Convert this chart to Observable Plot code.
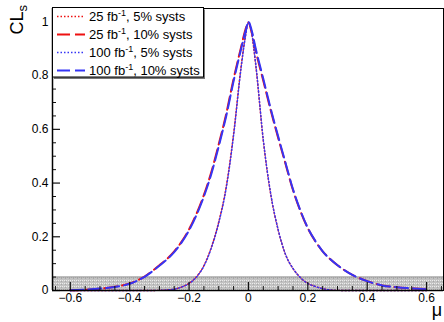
<!DOCTYPE html>
<html><head><meta charset="utf-8">
<script src="https://cdn.jsdelivr.net/npm/d3@7"></script>
<script src="https://cdn.jsdelivr.net/npm/@observablehq/plot@0.6"></script>
<style>
html,body{margin:0;padding:0;background:#fff;}
#chart{width:444px;height:322px;}
</style></head><body><div id="chart"></div>
<script>
// ---- data ----
const mu = [-0.6,-0.55,-0.5,-0.45,-0.4,-0.35,-0.3,-0.275,-0.25,-0.225,-0.2,-0.175,-0.15,-0.125,-0.1,-0.075,-0.05,-0.025,-0.01,0,0.01,0.025,0.05,0.075,0.1,0.125,0.15,0.175,0.2,0.225,0.25,0.275,0.3,0.35,0.4,0.45,0.5,0.55,0.6];
const cls100_10 = [0.001,0.003,0.007,0.013,0.025,0.051,0.092,0.115,0.143,0.179,0.224,0.281,0.350,0.434,0.537,0.649,0.780,0.898,0.965,1.0,0.972,0.898,0.788,0.677,0.574,0.475,0.377,0.298,0.233,0.185,0.146,0.117,0.094,0.058,0.035,0.019,0.012,0.008,0.005];
const cls25_10  = [0.001,0.003,0.007,0.014,0.026,0.052,0.094,0.117,0.146,0.182,0.228,0.286,0.356,0.441,0.545,0.657,0.788,0.905,0.972,0.998,0.965,0.890,0.781,0.671,0.569,0.471,0.374,0.296,0.232,0.184,0.146,0.117,0.094,0.058,0.035,0.019,0.012,0.008,0.005];
const cls100_5  = [0,0,0,0,0,0,0.0005,0.002,0.005,0.013,0.026,0.050,0.091,0.158,0.252,0.380,0.577,0.826,0.945,1.0,0.967,0.840,0.562,0.361,0.227,0.134,0.082,0.048,0.026,0.015,0.007,0.002,0.0005,0,0,0,0,0,0];
const cls25_5   = [0,0,0,0,0,0,0.0005,0.002,0.005,0.013,0.027,0.051,0.093,0.161,0.256,0.386,0.584,0.832,0.950,0.998,0.962,0.834,0.558,0.358,0.226,0.134,0.082,0.048,0.026,0.015,0.007,0.002,0.0005,0,0,0,0,0,0];
const bandTop = 0.05;
const xMajor = [-0.6,-0.4,-0.2,0,0.2,0.4,0.6];
const xMinor = [-0.65,-0.55,-0.5,-0.45,-0.35,-0.3,-0.25,-0.15,-0.1,-0.05,0.05,0.1,0.15,0.25,0.3,0.35,0.45,0.5,0.55,0.65];
const yMajor = [0,0.2,0.4,0.6,0.8,1];
const yMinor = [0.05,0.1,0.15,0.25,0.3,0.35,0.45,0.5,0.55,0.65,0.7,0.75,0.85,0.9,0.95,1.05];
const legendLumi = ["25","25","100","100"];
const legendSyst = ["5%","10%","5%","10%"];

// ---- styles ----
const RED = "#ee1111", BLUE = "#3535f5";
const DOT = "1.5,2", DASH = "13,5";
const W = 444, H = 322, mL = 52, mR = 1, mT = 8, mB = 32;
const plotW = W - mL - mR, plotH = H - mT - mB;

const rows = vals => mu.map((m, i) => ({mu: m, cls: vals[i]}));
const seriesDefs = [
  {vals: cls25_5, color: RED, dash: DOT, sw: 1.4, off: 1},
  {vals: cls25_10, color: RED, dash: DASH, sw: 2, off: 2},
  {vals: cls100_5, color: BLUE, dash: DOT, sw: 1.4, off: 0},
  {vals: cls100_10, color: BLUE, dash: DASH, sw: 2, off: 0}
];

const fmt = d => d === 0 ? "0" : (d === 1 ? "1" : d3.format(".1f")(d));

const chart = Plot.plot({
  width: W, height: H,
  marginLeft: mL, marginRight: mR, marginTop: mT, marginBottom: mB,
  style: {fontFamily: "'Liberation Sans', Arial, sans-serif", fontSize: "12px", background: "#fff", color: "#000"},
  x: {domain: [-0.66, 0.657], label: null},
  y: {domain: [0, 1.05], label: null},
  marks: [
    Plot.rect([{lo: 0, hi: bandTop}], {y1: "lo", y2: "hi", fill: "url(#hatch)"}),
    Plot.ruleY([bandTop], {stroke: "#8a8a8a", strokeWidth: 1}),
    ...seriesDefs.map(s => Plot.line(rows(s.vals), {x: "mu", y: "cls", stroke: s.color, strokeWidth: s.sw, strokeDasharray: s.dash, strokeDashoffset: s.off, curve: "monotone-x"})),
    Plot.tickX(xMajor, {x: d => d, insetTop: plotH - 8, stroke: "#111", strokeWidth: 1.2}),
    Plot.tickX(xMinor, {x: d => d, insetTop: plotH - 4, stroke: "#111", strokeWidth: 1}),
    Plot.tickY(yMajor, {y: d => d, insetRight: plotW - 8, stroke: "#111", strokeWidth: 1.2}),
    Plot.tickY(yMinor, {y: d => d, insetRight: plotW - 4, stroke: "#111", strokeWidth: 1}),
    Plot.axisX(xMajor, {tickSize: 0, tickPadding: 3, fontSize: 12, tickFormat: fmt, label: null}),
    Plot.axisY(yMajor, {tickSize: 0, tickPadding: 4, fontSize: 12, tickFormat: fmt, label: null}),
    Plot.frame({stroke: "#000", strokeWidth: 1}),
    Plot.ruleY([0], {stroke: "#000", strokeWidth: 1.5}),
    Plot.ruleX([-0.66], {stroke: "#000", strokeWidth: 1.5})
  ]
});
document.getElementById("chart").appendChild(chart);

const svg = d3.select(chart);
const defs = svg.insert("defs", ":first-child");
const pat = defs.append("pattern").attr("id", "hatch").attr("width", 4).attr("height", 3).attr("patternUnits", "userSpaceOnUse");
pat.append("rect").attr("width", 4).attr("height", 3).attr("fill", "#c2c2c2");
pat.append("rect").attr("x", 0).attr("y", 1).attr("width", 1).attr("height", 1).attr("fill", "#ececec");
pat.append("rect").attr("x", 2).attr("y", 1).attr("width", 1).attr("height", 1).attr("fill", "#ececec");
pat.append("rect").attr("x", 1).attr("y", 2).attr("width", 1).attr("height", 1).attr("fill", "#a8a8a8");

const FF = "'Liberation Sans', Arial, sans-serif";
// axis titles
const yt = svg.append("text").attr("transform", "translate(22.5,5) rotate(-90)")
  .attr("text-anchor", "end").attr("font-family", FF).attr("font-size", 18).attr("fill", "#000");
yt.append("tspan").text("CL");
yt.append("tspan").attr("dy", 4).attr("font-size", 13).text("s");
svg.append("text").attr("x", 442).attr("y", 315.5).attr("text-anchor", "end")
  .attr("font-family", FF).attr("font-size", 18).attr("fill", "#000").text("μ");

// legend
const lg = svg.append("g").attr("text-anchor", "start");
lg.append("rect").attr("x", 54).attr("y", 9.5).attr("width", 151).attr("height", 69.5).attr("fill", "#777");
lg.append("rect").attr("x", 52.5).attr("y", 7.5).attr("width", 151).attr("height", 69.5).attr("fill", "#fff").attr("stroke", "#000").attr("stroke-width", 1);
seriesDefs.forEach((s, i) => {
  const cy = 16.5 + i * 18;
  lg.append("line").attr("x1", 57).attr("x2", 85).attr("y1", cy).attr("y2", cy)
    .attr("stroke", s.color).attr("stroke-width", s.sw).attr("stroke-dasharray", s.dash);
  const t = lg.append("text").attr("x", 89).attr("y", cy + 4.7).attr("text-anchor", "start")
    .attr("font-family", FF).attr("font-size", 13).attr("fill", "#000");
  t.append("tspan").text(legendLumi[i] + " fb");
  t.append("tspan").attr("dy", -5).attr("font-size", 9).text("-1");
  t.append("tspan").attr("dy", 5).text(", " + legendSyst[i] + " systs");
});
</script>
</body></html>
